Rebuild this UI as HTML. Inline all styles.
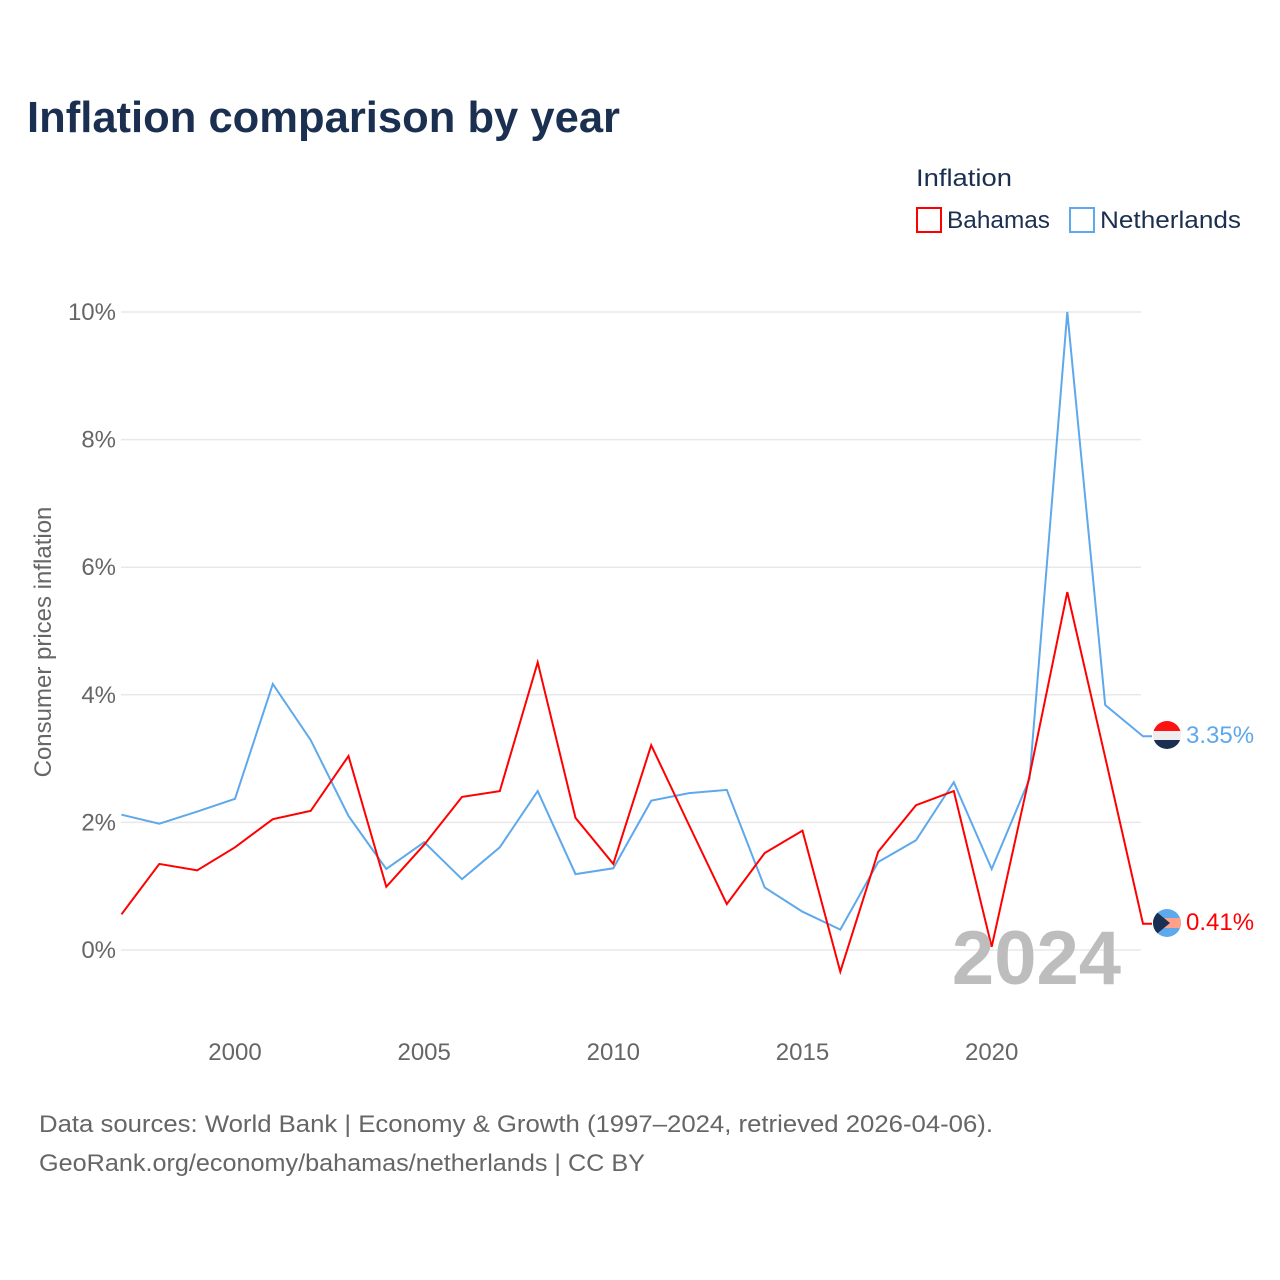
<!DOCTYPE html>
<html><head><meta charset="utf-8"><style>
html,body{margin:0;padding:0;background:#fff;width:1280px;height:1280px;overflow:hidden}
text{font-family:"Liberation Sans",sans-serif}
</style></head><body>
<svg id="chart" width="1280" height="1280" xmlns="http://www.w3.org/2000/svg">
<text x="27" y="132" font-size="44" font-weight="bold" fill="#1b3050" textLength="593" lengthAdjust="spacingAndGlyphs">Inflation comparison by year</text>
<text x="916" y="186" font-size="24" fill="#1b3050" textLength="96" lengthAdjust="spacingAndGlyphs">Inflation</text>
<g><rect x="917" y="208" width="24" height="24" fill="none" stroke="#ff0000" stroke-width="2"/><text x="947" y="228" font-size="24" fill="#1b3050" textLength="103" lengthAdjust="spacingAndGlyphs">Bahamas</text></g>
<g><rect x="1070" y="208" width="24" height="24" fill="none" stroke="#5ea8ec" stroke-width="2"/><text x="1100" y="228" font-size="24" fill="#1b3050" textLength="141" lengthAdjust="spacingAndGlyphs">Netherlands</text></g>
<text transform="translate(51,642) rotate(-90)" text-anchor="middle" font-size="24" fill="#666">Consumer prices inflation</text>
<g id="grid"></g><g id="ylab"></g><g id="xlab"></g><g id="lines"></g>
<text x="1121" y="984" text-anchor="end" font-size="76" font-weight="bold" fill="#bdbdbd">2024</text>
<text x="39" y="1132" font-size="24" fill="#666" textLength="954" lengthAdjust="spacingAndGlyphs">Data sources: World Bank | Economy &amp; Growth (1997–2024, retrieved 2026-04-06).</text>
<text x="39" y="1171" font-size="24" fill="#666" textLength="606" lengthAdjust="spacingAndGlyphs">GeoRank.org/economy/bahamas/netherlands | CC BY</text>
<g>
<clipPath id="c1"><circle cx="1167" cy="735" r="14"/></clipPath>
<g clip-path="url(#c1)"><rect x="1153" y="721" width="28" height="10" fill="#ff1111"/><rect x="1153" y="731" width="28" height="9" fill="#eee"/><rect x="1153" y="740" width="28" height="10" fill="#1b3050"/></g></g>
<g>
<clipPath id="c2"><circle cx="1167" cy="923" r="14"/></clipPath>
<g clip-path="url(#c2)"><rect x="1153" y="909" width="28" height="28" fill="#5ea8ec"/><rect x="1153" y="918" width="28" height="10" fill="#ffa08a"/><polygon points="1153,909 1170,923 1153,937" fill="#1b3050"/></g></g>
<text x="1186" y="743" font-size="24" fill="#5ea8ec">3.35%</text>
<text x="1186" y="930" font-size="24" fill="#ff0000">0.41%</text>
</svg>
<script>
const years=[1997,1998,1999,2000,2001,2002,2003,2004,2005,2006,2007,2008,2009,2010,2011,2012,2013,2014,2015,2016,2017,2018,2019,2020,2021,2022,2023,2024];
const bahamas=[0.56,1.35,1.25,1.61,2.05,2.18,3.04,0.99,1.65,2.40,2.49,4.51,2.07,1.35,3.21,1.96,0.72,1.52,1.87,-0.34,1.54,2.27,2.49,0.05,2.73,5.61,3.02,0.41];
const netherlands=[2.12,1.98,2.17,2.37,4.17,3.29,2.10,1.27,1.69,1.11,1.61,2.49,1.19,1.28,2.34,2.46,2.51,0.98,0.60,0.32,1.38,1.72,2.63,1.27,2.68,10.0,3.84,3.35];
const yTicks=[0,2,4,6,8,10];
const yTickLabels=["0%","2%","4%","6%","8%","10%"];
const xTicks=[2000,2005,2010,2015,2020];
const NS='http://www.w3.org/2000/svg';
const X=y=>121.5+(y-1997)*(1143-121.5)/27;
const Y=v=>950-v*63.8;
function mk(t,a,p){const e=document.createElementNS(NS,t);for(const k in a)e.setAttribute(k,a[k]);p.appendChild(e);return e;}
const g=document.getElementById('grid'),yl=document.getElementById('ylab'),xl=document.getElementById('xlab'),ln=document.getElementById('lines');
yTicks.forEach((v,i)=>{
 const l=mk('line',{x1:121,x2:1141,y1:Y(v),y2:Y(v),stroke:'#e8e8e8','stroke-width':1.5},g);
 
 
 const t=mk('text',{x:116,y:Y(v)+8,'text-anchor':'end','font-size':24,fill:'#666'},yl);t.textContent=yTickLabels[i];
 
 
});
xTicks.forEach(v=>{
 const t=mk('text',{x:X(v),y:1060,'text-anchor':'middle','font-size':24,fill:'#666'},xl);t.textContent=v;
 
 
});
function series(vals,col,name){
 let d=vals.map((v,i)=>(i?'L':'M')+X(years[i]).toFixed(1)+','+Y(v).toFixed(1)).join(' ');
 d+=' L1152,'+Y(vals[vals.length-1]).toFixed(1);
 const p=mk('path',{d:d,fill:'none',stroke:col,'stroke-width':2,'stroke-linejoin':'miter'},ln);
 
 
}
series(netherlands,'#5ea8ec','netherlands-line');
series(bahamas,'#ff0000','bahamas-line');
</script>
</body></html>
